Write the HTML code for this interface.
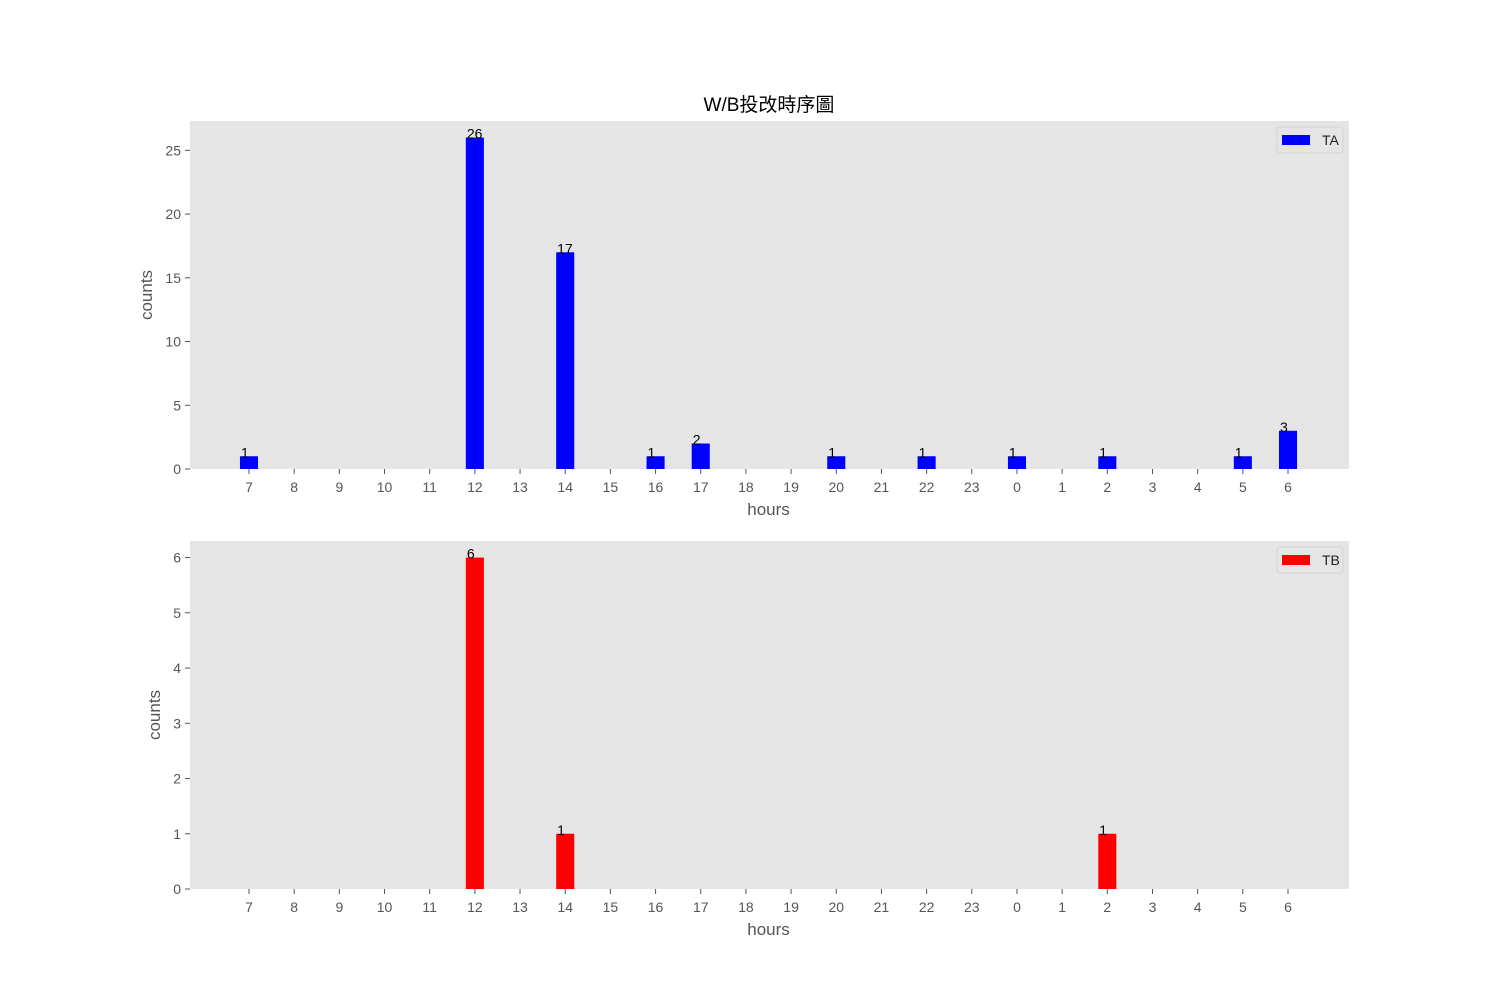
<!DOCTYPE html>
<html><head><meta charset="utf-8"><style>
body{margin:0;background:#fff}
svg{display:block;font-family:"Liberation Sans","Noto Sans CJK TC",sans-serif}
</style></head><body>
<svg id="chart" width="1500" height="1000">
<text x="769" y="111" font-size="19" text-anchor="middle" fill="#000">W/B投改時序圖</text>
</svg>
<script>
const hours = ["7","8","9","10","11","12","13","14","15","16","17","18","19","20","21","22","23","0","1","2","3","4","5","6"];
const taValues = [1,0,0,0,0,26,0,17,0,1,2,0,0,1,0,1,0,1,0,1,0,0,1,3];
const tbValues = [0,0,0,0,0,6,0,1,0,0,0,0,0,0,0,0,0,0,0,1,0,0,0,0];
const taTicks = [0,5,10,15,20,25];
const tbTicks = [0,1,2,3,4,5,6];

const NS="http://www.w3.org/2000/svg";
const svg=document.getElementById('chart');
function mk(tag,attrs,parent){const e=document.createElementNS(NS,tag);for(const k in attrs)e.setAttribute(k,attrs[k]);(parent||svg).appendChild(e);return e;}

function panel(top,values,ticks,color,label,prefix){
  const L=190,R=1349,T=top,B=top+348;
  const g=mk('g',{});
  
  
  const bg=mk('rect',{x:L,y:T,width:R-L,height:B-T,fill:'#e5e5e5'},g);
  
  
  const n=values.length;
  const xmin=-1.306,xmax=(n-1)+1.35;
  const xs=v=>L+(v-xmin)/(xmax-xmin)*(R-L);
  const ymax=Math.max(...values)*1.05;
  const ys=v=>B-v/ymax*(B-T);
  ticks.forEach(t=>{
    const y=ys(t);
    mk('line',{x1:L-5,x2:L,y1:y,y2:y,stroke:'#555','stroke-width':1},g);
    const tx=mk('text',{x:L-9,y:y+5,'font-size':14,'text-anchor':'end',fill:'#555'},g);
    tx.textContent=t;
    
    
  });
  hours.forEach((h,i)=>{
    const x=xs(i);
    mk('line',{x1:x,x2:x,y1:B,y2:B+5,stroke:'#555','stroke-width':1},g);
    const tx=mk('text',{x:x,y:B+23,'font-size':14,'text-anchor':'middle',fill:'#555'},g);
    tx.textContent=h;
    
    
  });
  const bw=(xs(0.4)-xs(0));
  values.forEach((v,i)=>{
    if(v<=0)return;
    const x=xs(i);
    const r=mk('rect',{x:x-bw/2,y:ys(v),width:bw,height:B-ys(v),fill:color},g);
    
    
    const t=mk('text',{x:x-bw/2+1,y:ys(v)+1,'font-size':14,fill:'#000'},g);
    t.textContent=v;
    
    
  });
  const xl=mk('text',{x:(L+R)/2-1,y:B+46,'font-size':17,'text-anchor':'middle',fill:'#555'},g);
  xl.textContent='hours';
  
  
  const yx=prefix==='ta'?152:160;
  const yl=mk('text',{x:yx,y:(T+B)/2,'font-size':17,'text-anchor':'middle',fill:'#555',transform:`rotate(-90 ${yx} ${(T+B)/2})`},g);
  yl.textContent='counts';
  
  
  const lg=mk('g',{},g);
  
  
  mk('rect',{x:1277,y:T+6,width:66,height:26,rx:3,fill:'#e5e5e5',stroke:'#d4d4d4'},lg);
  mk('rect',{x:1282,y:T+14,width:28,height:10,fill:color},lg);
  const lt=mk('text',{x:1322,y:T+24,'font-size':14,fill:'#222'},lg);
  lt.textContent=label;
}
panel(121,taValues,taTicks,'#0000ff','TA','ta');
panel(541,tbValues,tbTicks,'#ff0000','TB','tb');
</script>
</body></html>
